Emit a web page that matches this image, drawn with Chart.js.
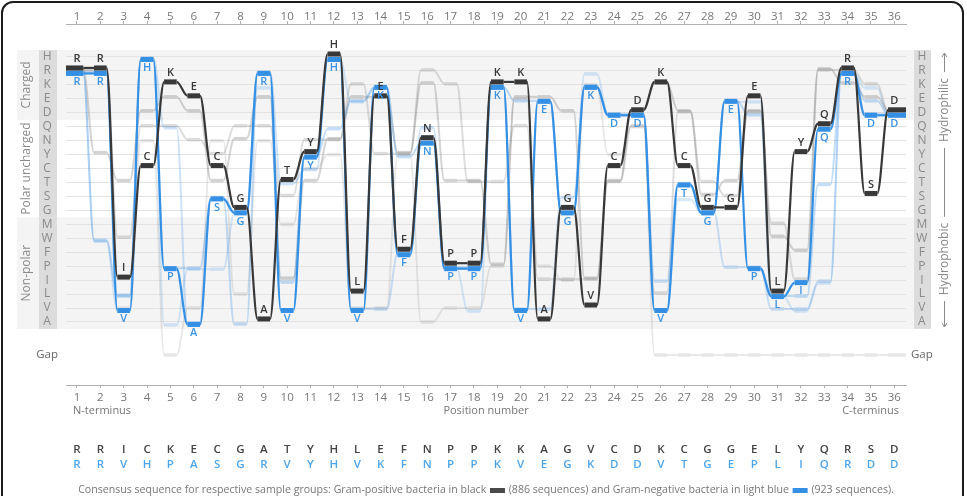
<!DOCTYPE html>
<html>
<head>
<meta charset="utf-8">
<script src="https://cdn.jsdelivr.net/npm/chart.js@4.4.1/dist/chart.umd.min.js"></script>
<style>
  html, body { margin: 0; padding: 0; background: #fff; overflow: hidden; }
  #wrap { position: relative; width: 967px; height: 496px; }
  #chart { position: absolute; left: 0; top: 0; }
  #frame { position: absolute; left: 1px; top: 1px; width: 963px; height: 560px; box-sizing: border-box;
           border: 2px solid #1c1c1c; border-radius: 12px; pointer-events: none; }
</style>
</head>
<body>
<div id="wrap">
  <canvas id="chart" width="967" height="496"></canvas>
  <div id="frame"></div>
</div>
<script>
// residue rows, top to bottom
const residues = ['H', 'R', 'K', 'E', 'D', 'Q', 'N', 'Y', 'C', 'T', 'S', 'G', 'M', 'W', 'F', 'P', 'I', 'L', 'V', 'A'];
const gapLabel = 'Gap';
const gapIndex = 21.37;
const positions = [1, 2, 3, 4, 5, 6, 7, 8, 9, 10, 11, 12, 13, 14, 15, 16, 17, 18,
                   19, 20, 21, 22, 23, 24, 25, 26, 27, 28, 29, 30, 31, 32, 33, 34, 35, 36];

// consensus sequences
const gramPositive = ['R', 'R', 'I', 'C', 'K', 'E', 'C', 'G', 'A', 'T', 'Y', 'H', 'L', 'E', 'F', 'N', 'P', 'P',
                      'K', 'K', 'A', 'G', 'V', 'C', 'D', 'K', 'C', 'G', 'G', 'E', 'L', 'Y', 'Q', 'R', 'S', 'D'];
const gramNegative = ['R', 'R', 'V', 'H', 'P', 'A', 'S', 'G', 'R', 'V', 'Y', 'H', 'V', 'K', 'F', 'N', 'P', 'P',
                      'K', 'V', 'E', 'G', 'K', 'D', 'D', 'V', 'T', 'G', 'E', 'P', 'L', 'I', 'Q', 'R', 'D', 'D'];

// fainter variants seen behind the consensus lines ('-' = gap)
const grayVariantA = ['R', 'Y', 'T', 'D', 'E', 'D', 'T', 'N', 'E', 'I', 'T', 'N', 'E', 'E', 'Y', 'K', 'T', 'T',
                      'P', 'E', 'E', 'D', 'I', 'T', 'D', 'K', 'D', 'S', 'T', 'D', 'W', 'F', 'R', 'K', 'E', 'D'];
const grayVariantB = ['R', 'R', 'W', 'Q', 'Q', 'N', 'Y', 'Q', 'Q', 'S', 'N', 'N', 'K', 'Y', 'Y', 'R', 'K', 'T',
                      'T', 'Q', 'I', 'I', 'I', 'T', 'Q', 'L', 'D', 'T', 'S', 'D', 'M', 'I', 'R', 'R', 'K', 'D'];
const grayVariantC = ['R', 'R', 'V', 'N', '-', 'V', 'N', 'L', 'N', 'M', 'C', 'Y', 'V', 'V', 'Y', 'A', 'V', 'V',
                      'P', 'E', 'P', 'I', 'K', 'Y', 'Q', '-', '-', '-', '-', '-', '-', '-', '-', '-', '-', '-'];
const blueVariantA = ['R', 'W', 'L', 'H', 'P', 'P', 'S', 'A', 'R', 'I', 'Y', 'Q', 'E', 'K', 'Y', 'N', 'P', 'P',
                      'K', 'E', 'E', 'G', 'K', 'D', 'D', 'V', 'T', 'G', 'E', 'D', 'L', 'L', 'T', 'R', 'E', 'D'];
const blueVariantB = ['R', 'R', 'L', 'H', 'Q', 'A', 'S', 'G', 'R', 'T', 'C', 'H', 'V', 'V', 'F', 'Q', 'P', 'P',
                      'K', 'V', 'V', 'S', 'K', 'D', 'D', 'I', 'T', 'G', 'P', 'P', 'V', 'V', 'I', 'R', 'D', 'D'];
const blueVariantC = ['R', 'W', 'V', 'H', 'A', 'P', 'P', 'G', 'K', 'V', 'Y', 'H', 'E', 'K', 'F', 'N', 'P', 'V',
                      'K', 'V', 'E', 'G', 'R', 'D', 'D', 'V', 'S', 'G', 'E', 'E', 'L', 'V', 'I', 'R', 'K', 'D'];

const groups = [['Charged', 'H', 'D'], ['Polar uncharged', 'Q', 'G'], ['Non-polar', 'M', 'A']];
const caption = ['Consensus sequence for respective sample groups: Gram-positive bacteria in black ',
                 ' (886 sequences) and Gram-negative bacteria in light blue ', ' (923 sequences).'];

const FONT = "'Open Sans', sans-serif";
const BLACK = '#383838';
const BLUE = '#3490e4';
const X_MIN = 0.53, X_MAX = 36.5;
const HALF = 0.27;

Chart.defaults.font.family = FONT;

function rowOf(r) {
    return r === '-' ? gapIndex : residues.indexOf(r);
}

// each residue becomes a short flat step, the monotone spline joins the steps
function stepPoints(seq) {
    const pts = [];
    seq.forEach((r, i) => {
        const y = rowOf(r);
        pts.push({ x: i === 0 ? X_MIN : positions[i] - HALF, y: y });
        pts.push({ x: i === seq.length - 1 ? X_MAX : positions[i] + HALF, y: y });
    });
    return pts;
}

function seqDataset(seq, color, flat, slope, shift) {
    return {
        data: stepPoints(seq),
        borderColor: color,
        borderWidth: slope,
        segment: { borderWidth: c => c.p0DataIndex % 2 === 0 ? flat : slope },
        cubicInterpolationMode: 'monotone',
        pointRadius: 0,
        fill: false,
        clip: false,
        borderJoinStyle: 'round',
        yShift: shift
    };
}

const shiftPlugin = {
    id: 'shift',
    beforeDatasetDraw(chart, args) {
        const ds = chart.data.datasets[args.index];
        chart.ctx.save();
        chart.ctx.translate(0, ds.yShift || 0);
    },
    afterDatasetDraw(chart) {
        chart.ctx.restore();
    }
};

const backdropPlugin = {
    id: 'backdrop',
    beforeDraw(chart) {
        const { ctx, scales: { y } } = chart;
        const top = y.getPixelForValue(-0.5);
        const bottom = y.getPixelForValue(19.5);
        ctx.save();
        // charged + non-polar bands
        ctx.fillStyle = '#f4f4f4';
        ctx.fillRect(17, top, 897, y.getPixelForValue(4.5) - top);
        ctx.fillRect(17, y.getPixelForValue(11.5), 897, bottom - y.getPixelForValue(11.5));
        // letter columns
        ctx.fillStyle = '#dcdcdc';
        ctx.fillRect(39, top, 18, bottom - top);
        ctx.fillRect(914, top, 17, bottom - top);

        ctx.fillStyle = '#8a8a8a';
        ctx.font = '12px ' + FONT;
        ctx.textAlign = 'center';
        ctx.textBaseline = 'middle';
        groups.forEach(g => {
            const yc = (y.getPixelForValue(rowOf(g[1]) - 0.5) + y.getPixelForValue(rowOf(g[2]) + 0.5)) / 2;
            ctx.save();
            ctx.translate(27, yc);
            ctx.rotate(-Math.PI / 2);
            ctx.fillText(g[0], 0, 0);
            ctx.restore();
        });

        // hydrophilic / hydrophobic arrow
        const ax = 944.5;
        const philic = 110, phobic = 259;
        const wPhilic = ctx.measureText('Hydrophilic').width / 2 + 6;
        const wPhobic = ctx.measureText('Hydrophobic').width / 2 + 6;
        [['Hydrophilic', philic], ['Hydrophobic', phobic]].forEach(t => {
            ctx.save();
            ctx.translate(ax + 0.5, t[1]);
            ctx.rotate(-Math.PI / 2);
            ctx.fillText(t[0], 0, 0);
            ctx.restore();
        });
        ctx.strokeStyle = '#8a8a8a';
        ctx.lineWidth = 1;
        ctx.beginPath();
        ctx.moveTo(ax, top + 3); ctx.lineTo(ax, philic - wPhilic);
        ctx.moveTo(ax, philic + wPhilic); ctx.lineTo(ax, phobic - wPhobic);
        ctx.moveTo(ax, phobic + wPhobic); ctx.lineTo(ax, bottom - 2);
        ctx.moveTo(ax - 2.5, top + 7); ctx.lineTo(ax, top + 3); ctx.lineTo(ax + 2.5, top + 7);
        ctx.moveTo(ax - 2.5, bottom - 6); ctx.lineTo(ax, bottom - 2); ctx.lineTo(ax + 2.5, bottom - 6);
        ctx.stroke();
        ctx.restore();
    }
};

const lettersPlugin = {
    id: 'letters',
    afterDatasetsDraw(chart) {
        const { ctx, scales: { x, y } } = chart;
        ctx.save();
        ctx.textAlign = 'center';
        ctx.textBaseline = 'middle';
        ctx.font = '600 11px ' + FONT;
        positions.forEach((p, i) => {
            const px = x.getPixelForValue(p);
            ctx.fillStyle = BLACK;
            ctx.fillText(gramPositive[i], px, y.getPixelForValue(rowOf(gramPositive[i])) - 12);
            ctx.fillStyle = '#3b94e4';
            ctx.fillText(gramNegative[i], px, y.getPixelForValue(rowOf(gramNegative[i])) + 11);
        });

        // sequences under the axis
        ctx.font = '600 11.5px ' + FONT;
        positions.forEach((p, i) => {
            const px = x.getPixelForValue(p);
            ctx.fillStyle = '#444';
            ctx.fillText(gramPositive[i], px, 450);
            ctx.fillStyle = '#4ea5ea';
            ctx.fillText(gramNegative[i], px, 465);
        });

        ctx.font = '11px ' + FONT;
        ctx.fillStyle = '#777';
        ctx.textAlign = 'left';
        ctx.fillText('N-terminus', 73, 411);
        ctx.textAlign = 'center';
        ctx.fillText('Position number', (x.left + x.right) / 2, 411);
        ctx.textAlign = 'right';
        ctx.fillText('C-terminus', 899, 411);

        // caption with colour swatches
        ctx.font = '10.6px ' + FONT;
        const sw = 15, gap = 1;
        const widths = caption.map(t => ctx.measureText(t).width);
        const total = widths.reduce((a, b) => a + b, 0) + 2 * (sw + 2 * gap);
        let cx = (x.left + x.right) / 2 - total / 2;
        ctx.textAlign = 'left';
        caption.forEach((t, i) => {
            ctx.fillStyle = '#777';
            ctx.fillText(t, cx, 490);
            cx += widths[i];
            if (i < 2) {
                ctx.fillStyle = i === 0 ? '#4a4a4a' : BLUE;
                ctx.fillRect(cx + gap, 488, sw, 5);
                cx += sw + 2 * gap;
            }
        });
        ctx.restore();
    }
};

function xAxis(pos, h, pad) {
    return {
        type: 'linear',
        position: pos,
        min: X_MIN,
        max: X_MAX,
        afterBuildTicks: s => { s.ticks = positions.map(v => ({ value: v })); },
        afterFit: s => { s.height = h; },
        ticks: { autoSkip: false, maxRotation: 0, color: '#777', padding: pad, font: { size: 11.5 } },
        grid: { drawOnChartArea: false, color: '#b0b0b0', tickLength: 3 },
        border: { color: '#b0b0b0' }
    };
}

function yAxis(pos, w, pad, showGrid) {
    return {
        type: 'linear',
        position: pos,
        reverse: true,
        min: -2.366,
        max: 23.52,
        afterBuildTicks: s => {
            s.ticks = residues.map((r, i) => ({ value: i })).concat([{ value: gapIndex }]);
        },
        afterFit: s => { s.width = w; },
        ticks: {
            autoSkip: false,
            crossAlign: 'center',
            padding: pad,
            font: c => ({ size: c.index < residues.length ? 12 : 11.5 }),
            color: c => c.index < residues.length ? '#8a8a8a' : '#666',
            callback: (v, i) => i < residues.length ? residues[i] : gapLabel
        },
        grid: {
            display: showGrid,
            drawTicks: false,
            color: c => c.index < residues.length ? '#e3e3e3' : 'rgba(0,0,0,0)'
        },
        border: { display: false }
    };
}

new Chart(document.getElementById('chart'), {
    type: 'line',
    data: {
        datasets: [
            seqDataset(gramPositive, BLACK, 5, 2.2, -3),
            seqDataset(gramNegative, BLUE, 5, 2.2, 2.5),
            seqDataset(blueVariantA, 'rgba(60,145,230,0.30)', 3.5, 2, 2),
            seqDataset(blueVariantB, 'rgba(60,145,230,0.25)', 3.5, 2, 1),
            seqDataset(blueVariantC, 'rgba(60,145,230,0.20)', 3.5, 2, 3),
            seqDataset(grayVariantA, 'rgba(120,120,120,0.32)', 3.5, 2, -2),
            seqDataset(grayVariantB, 'rgba(120,120,120,0.25)', 3.5, 2, -1),
            seqDataset(grayVariantC, 'rgba(120,120,120,0.18)', 3.5, 1.8, 0)
        ]
    },
    options: {
        responsive: false,
        animation: false,
        layout: { padding: 0 },
        plugins: { legend: { display: false }, tooltip: { enabled: false } },
        scales: {
            x: xAxis('bottom', 111, 3),
            xTop: xAxis('top', 24, -3),
            y: yAxis('left', 66, 8, true),
            yRight: yAxis('right', 61, 5, false)
        }
    },
    plugins: [backdropPlugin, shiftPlugin, lettersPlugin]
});
</script>
</body>
</html>
